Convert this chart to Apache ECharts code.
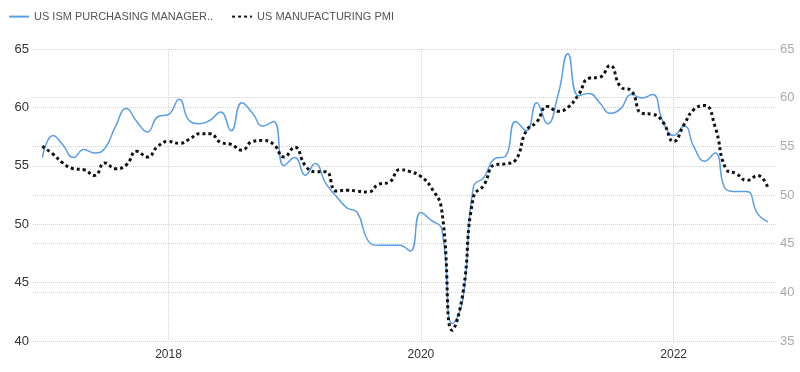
<!DOCTYPE html>
<html>
<head>
<meta charset="utf-8">
<script src="https://cdn.jsdelivr.net/npm/echarts@6/dist/echarts.min.js"></script>
<style>html,body{margin:0;padding:0;background:#fff}#c{width:800px;height:372px}</style>
</head>
<body>
<div id="c"></div>
<script>
// Monthly dates Jan 2017 .. Oct 2022
const months = [
 '2017-01-01','2017-02-01','2017-03-01','2017-04-01','2017-05-01','2017-06-01','2017-07-01','2017-08-01','2017-09-01','2017-10-01','2017-11-01','2017-12-01',
 '2018-01-01','2018-02-01','2018-03-01','2018-04-01','2018-05-01','2018-06-01','2018-07-01','2018-08-01','2018-09-01','2018-10-01','2018-11-01','2018-12-01',
 '2019-01-01','2019-02-01','2019-03-01','2019-04-01','2019-05-01','2019-06-01','2019-07-01','2019-08-01','2019-09-01','2019-10-01','2019-11-01','2019-12-01',
 '2020-01-01','2020-02-01','2020-03-01','2020-04-01','2020-05-01','2020-06-01','2020-07-01','2020-08-01','2020-09-01','2020-10-01','2020-11-01','2020-12-01',
 '2021-01-01','2021-02-01','2021-03-01','2021-04-01','2021-05-01','2021-06-01','2021-07-01','2021-08-01','2021-09-01','2021-10-01','2021-11-01','2021-12-01',
 '2022-01-01','2022-02-01','2022-03-01','2022-04-01','2022-05-01','2022-06-01','2022-07-01','2022-08-01','2022-09-01','2022-10-01'
];
const ismValues = [
 55.7,57.6,56.8,55.7,56.4,56.1,56.5,58.4,59.9,58.8,57.9,59.2,
 59.4,60.7,58.9,58.6,58.9,59.6,58.0,60.4,59.5,58.4,58.8,55.0,
 55.7,54.2,55.2,53.5,52.4,51.4,51.0,48.6,48.2,48.2,48.2,47.7,
 51.0,50.3,49.6,41.5,43.5,53.2,54.0,55.6,55.8,58.8,58.0,60.4,
 58.6,61.1,64.6,61.0,61.2,60.4,59.5,59.9,61.1,60.8,61.1,58.8,
 57.6,58.4,56.6,55.4,56.1,53.0,52.8,52.8,50.9,50.2
];
const pmiValues = [
 55.0,54.2,53.3,52.7,52.6,52.0,53.3,52.7,53.1,54.5,53.9,55.0,
 55.5,55.3,55.7,56.3,56.3,55.4,55.2,54.6,55.5,55.6,55.2,53.9,
 54.9,53.0,52.4,52.4,50.4,50.5,50.4,50.3,51.1,51.3,52.6,52.4,
 51.9,50.7,48.5,36.1,39.8,49.8,51.0,53.1,53.2,53.6,56.6,57.5,
 59.1,58.6,59.0,60.3,62.0,62.1,63.3,61.1,60.7,58.4,58.3,57.5,
 55.5,57.3,58.8,59.2,57.0,52.7,52.2,51.5,52.0,50.7
];
const seriesNames = ['US ISM PURCHASING MANAGER..', 'US MANUFACTURING PMI'];
const xTickYears = ['2018-01-01','2020-01-01','2022-01-01'];
const leftTicks = [40,65,5];
const rightTicks = [35,65,5];

const chart = echarts.init(document.getElementById('c'), null, {renderer:'canvas'});
const ff = '"Liberation Sans", Arial, sans-serif';
const toT = s => { const p = s.split('-'); return new Date(+p[0], +p[1]-1, +p[2]).getTime(); };
const tickTimes = xTickYears.map(toT);
const splitStyle = {show:true, lineStyle:{color:'#cfcfcf', type:[1,1], width:1}};
chart.setOption({
  animation:false,
  textStyle:{fontFamily:ff},
  legend:{
    left:3, top:6, itemWidth:20, itemHeight:14, itemGap:18,
    itemStyle:{opacity:0},
    textStyle:{fontSize:11, color:'#555', fontFamily:ff},
    data:seriesNames
  },
  grid:{left:33, right:23, top:49, bottom:31, containLabel:false},
  xAxis:{
    type:'value',
    min:toT('2016-12-05'), max:toT('2022-10-27'),
    axisLine:{show:false},
    axisTick:{show:false, customValues:tickTimes},
    axisLabel:{customValues:tickTimes, formatter:v => String(new Date(v).getFullYear()), color:'#333', fontSize:12, margin:8, fontFamily:ff},
    splitLine:splitStyle
  },
  yAxis:[
    {type:'value', position:'left', min:leftTicks[0], max:leftTicks[1], interval:leftTicks[2],
     axisLine:{show:false}, axisTick:{show:false},
     axisLabel:{color:'#333', fontSize:13, margin:4, fontFamily:ff},
     splitLine:splitStyle},
    {type:'value', position:'right', min:rightTicks[0], max:rightTicks[1], interval:rightTicks[2],
     axisLine:{show:false}, axisTick:{show:false},
     axisLabel:{color:'#aaa', fontSize:13, margin:3, fontFamily:ff},
     splitLine:splitStyle}
  ],
  series:[
    {name:seriesNames[0], type:'line', yAxisIndex:0, smooth:0.5, symbol:'none',
     lineStyle:{color:'#5b9ee8', width:1.5}, itemStyle:{color:'#5b9ee8'},
     data:months.map((m,i)=>[toT(m), ismValues[i]])},
    {name:seriesNames[1], type:'line', yAxisIndex:1, smooth:0.5, symbol:'none',
     lineStyle:{color:'#111', width:3, type:[3,3]}, itemStyle:{color:'#111'},
     data:months.map((m,i)=>[toT(m), pmiValues[i]])}
  ]
});
</script>
</body>
</html>
